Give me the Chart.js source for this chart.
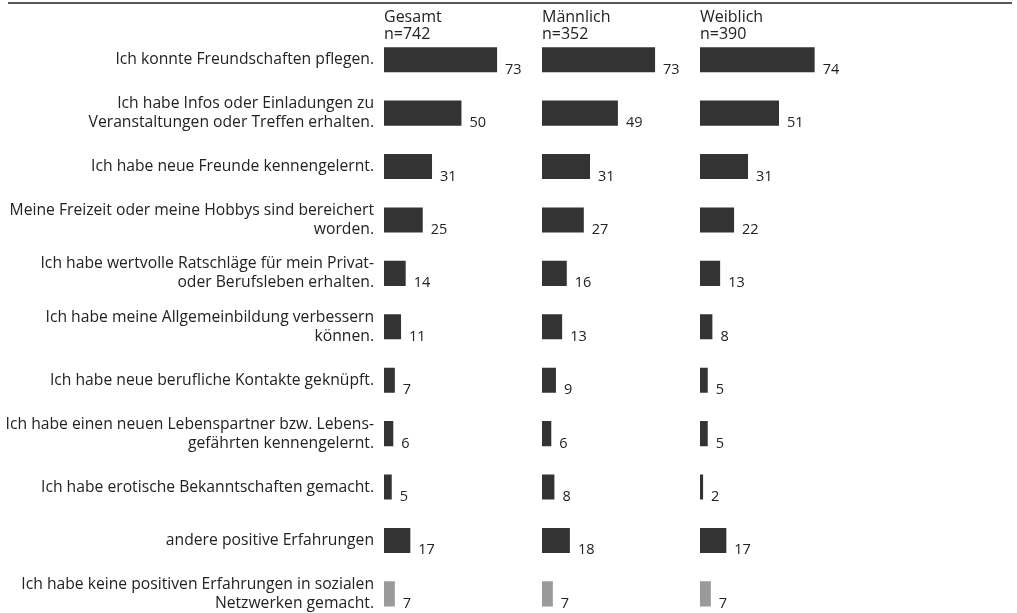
<!DOCTYPE html>
<html>
<head>
<meta charset="utf-8">
<script src="https://cdn.jsdelivr.net/npm/chart.js@4"></script>
<style>
  html, body { margin: 0; padding: 0; background: #fff; overflow: hidden; }
  #wrap { position: relative; width: 1017px; height: 640px; }
</style>
</head>
<body>
<div id="wrap"><canvas id="grafico"></canvas></div>
<script>
// Kategorien (Zeilen)
const kategorien = [
    'Ich konnte Freundschaften pflegen.',
    ['Ich habe Infos oder Einladungen zu', 'Veranstaltungen oder Treffen erhalten.'],
    'Ich habe neue Freunde kennengelernt.',
    ['Meine Freizeit oder meine Hobbys sind bereichert', 'worden.'],
    ['Ich habe wertvolle Ratschläge für mein Privat-', 'oder Berufsleben erhalten.'],
    ['Ich habe meine Allgemeinbildung verbessern', 'können.'],
    'Ich habe neue berufliche Kontakte geknüpft.',
    ['Ich habe einen neuen Lebenspartner bzw. Lebens-', 'gefährten kennengelernt.'],
    'Ich habe erotische Bekanntschaften gemacht.',
    'andere positive Erfahrungen',
    ['Ich habe keine positiven Erfahrungen in sozialen', 'Netzwerken gemacht.']
];

// Werte in Prozent
const gesamt    = [73, 50, 31, 25, 14, 11, 7, 6, 5, 17, 7];
const maennlich = [73, 49, 31, 27, 16, 13, 9, 6, 8, 18, 7];
const weiblich  = [74, 51, 31, 22, 13, 8, 5, 5, 2, 17, 7];

// Spaltenköpfe
const gruppen = ['Gesamt', 'Männlich', 'Weiblich'];
const stichproben = ['n=742', 'n=352', 'n=390'];

const dunkel = '#333333';
const hell = '#9a9a9a';
const farben = kategorien.map((k, i) => i === kategorien.length - 1 ? hell : dunkel);

const schrift = "'Open Sans', 'Noto Sans', sans-serif";

// Köpfe und Zahlen neben den Balken
const beschriftung = {
    id: 'beschriftung',
    afterDatasetsDraw(chart) {
        const c = chart.ctx;
        c.save();
        c.fillStyle = '#222';
        c.textAlign = 'left';
        c.textBaseline = 'alphabetic';
        chart.data.datasets.forEach((ds, d) => {
            const meta = chart.getDatasetMeta(d);
            const xs = chart.scales[ds.xAxisID];
            // Kopf
            c.font = `16px ${schrift}`;
            c.fillText(gruppen[d], xs.left, 22);
            c.fillText(stichproben[d], xs.left, 39);
            // Werte
            c.font = `14.5px ${schrift}`;
            meta.data.forEach((bar, i) => {
                c.fillText(ds.data[i], bar.x + 8, bar.y + 14);
            });
        });
        // Linie oben
        c.strokeStyle = '#222';
        c.lineWidth = 1.5;
        c.beginPath();
        c.moveTo(8, 3);
        c.lineTo(1012, 3);
        c.stroke();
        c.restore();
    }
};

const achseX = () => ({
    type: 'linear',
    position: 'bottom',
    stack: 'spalten',
    min: 0,
    max: 102,
    ticks: { display: false },
    grid: { display: false, drawTicks: false },
    border: { display: false },
    afterFit(scale) { scale.height = 0; }
});

new Chart(document.getElementById('grafico'), {
    type: 'bar',
    data: {
        labels: kategorien,
        datasets: [
            { label: gruppen[0], data: gesamt, xAxisID: 'x1', backgroundColor: farben },
            { label: gruppen[1], data: maennlich, xAxisID: 'x2', backgroundColor: farben },
            { label: gruppen[2], data: weiblich, xAxisID: 'x3', backgroundColor: farben }
        ]
    },
    options: {
        indexAxis: 'y',
        responsive: true,
        maintainAspectRatio: false,
        animation: false,
        layout: { padding: { top: 33, right: 159, bottom: 0, left: 0 } },
        datasets: {
            bar: { grouped: false, categoryPercentage: 1, barPercentage: 0.47 }
        },
        plugins: {
            legend: { display: false },
            tooltip: { enabled: false }
        },
        scales: {
            x1: achseX(),
            x2: achseX(),
            x3: achseX(),
            y: {
                type: 'category',
                position: 'left',
                grid: { display: false, drawTicks: false },
                border: { display: false },
                ticks: {
                    color: '#222',
                    padding: 10,
                    font: { family: schrift, size: 15.7, lineHeight: 1.2 }
                },
                afterFit(scale) { scale.width = 384; }
            }
        }
    },
    plugins: [beschriftung]
});
</script>
</body>
</html>
